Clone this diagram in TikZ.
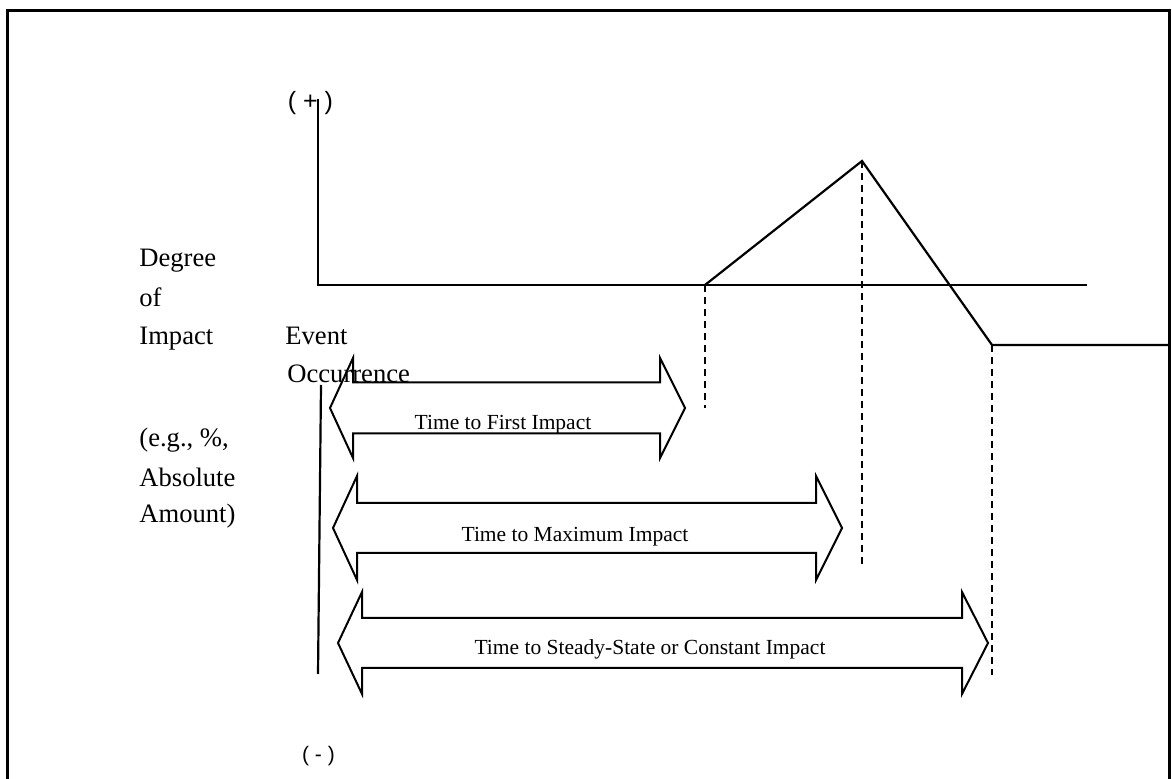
\documentclass[tikz,border=0pt]{standalone}
\usepackage{fontspec}
\setmainfont{Liberation Serif}
\newfontfamily\sansf{Liberation Sans}
\newcommand\blockarr[8]{%
  \draw[blockarrow] (#1,#5) -- (#2,#5-#6) -- (#2,#5-#7) -- (#3,#5-#7) -- (#3,#5-#6) -- (#4,#5)
    -- (#3,#5+#6) -- (#3,#5+#7) -- (#2,#5+#7) -- (#2,#5+#6) -- cycle;
  \coordinate (#8) at ({(#1+#4)/2},#5);}
\begin{document}
\begin{tikzpicture}[x=0.5pt,y=-0.5pt,
  frame/.style={line width=1.5pt},
  axisline/.style={line width=1.1pt},
  guide/.style={line width=1.1pt, dash pattern=on 3.5pt off 2.5pt},
  blockarrow/.style={line width=1pt, line join=miter},
  lbl/.style={anchor=base west, inner sep=0pt, font=\fontsize{13.3}{15}\selectfont},
  arrowtext/.style={anchor=base, inner sep=0pt, font=\fontsize{10.75}{13}\selectfont},
  signlbl/.style={inner sep=0pt, font=\sansf\fontsize{12.5}{15}\selectfont}]
\useasboundingbox (0,0) rectangle (1172,779);

% outer frame (bottom edge off the page)
\coordinate (fbl) at (7.5,790);
\coordinate (ftl) at (7.5,10.5);
\coordinate (ftr) at (1169,10.5);
\coordinate (fbr) at (1169,790);
\draw[frame] (fbl) -- (ftl) -- (ftr) -- (fbr);

% axes
\coordinate (ytop) at (318,99);
\coordinate (origin) at (318,285);
\coordinate (xend) at (1087,285);
\draw[axisline] (ytop) -- (origin) -- (xend);

% impact curve
\coordinate (first) at (705,285);
\coordinate (peak) at (862,161);
\coordinate (steady) at (992,345);
\coordinate (steadyend) at (1169,345);
\draw[axisline, line join=miter] (first) -- (peak) -- (steady) -- (steadyend);

% dashed guides
\coordinate (firstlow) at (705,408);
\coordinate (peaklow) at (862,566);
\coordinate (steadylow) at (992,675);
\draw[guide] (first) -- (firstlow);
\draw[guide] (peak) -- (peaklow);
\draw[guide] (steady) -- (steadylow);

% event occurrence line
\coordinate (evtop) at (321,385);
\coordinate (evbot) at (318,674);
\draw[axisline] (evtop) -- (evbot);

% block arrows
\blockarr{330}{353}{660}{685}{408}{50}{25.5}{a1}
\blockarr{333}{357}{816}{842}{528}{52}{25}{a2}
\blockarr{338}{362}{962}{988}{643}{51}{25}{a3}

\node[arrowtext] (t1) at (503,430) {Time to First Impact};
\node[arrowtext] (t2) at (575,542) {Time to Maximum Impact};
\node[arrowtext] (t3) at (650,655) {Time to Steady-State or Constant Impact};

% labels
\node[lbl] (l1) at (139,267) {Degree};
\node[lbl] (l2) at (139,307) {of};
\node[lbl] (l3) at (139,345) {Impact};
\node[lbl] (l4) at (139,447) {(e.g., \%,};
\node[lbl] (l5) at (139,487) {Absolute};
\node[lbl] (l6) at (139,523) {Amount)};
\node[lbl] (e1) at (285,345) {Event};
\node[lbl] (e2) at (287,383) {Occurrence};

\node[signlbl] (plus) at (310.5,103) {( + )};
\node[signlbl, font=\sansf\fontsize{10.5}{13}\selectfont] (minus) at (318.5,756) {( - )};
\end{tikzpicture}
\end{document}
